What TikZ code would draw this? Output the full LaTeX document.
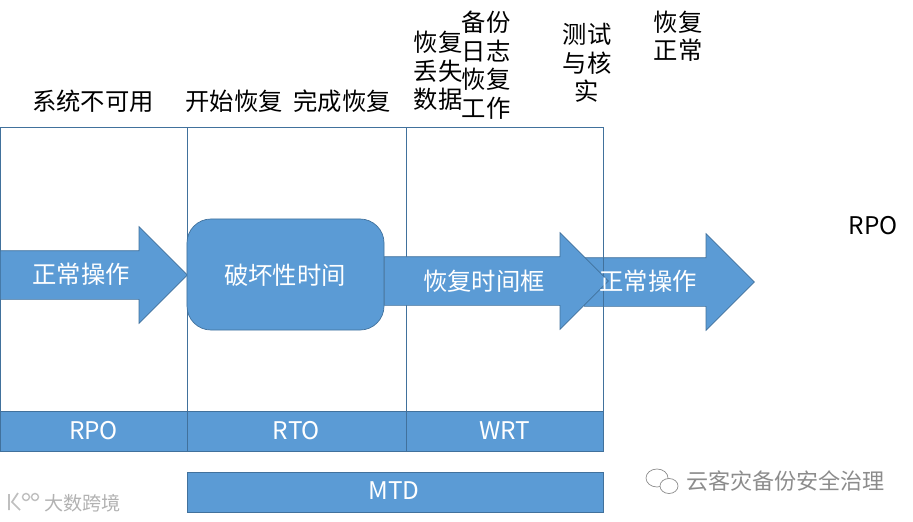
\documentclass[tikz,border=0pt]{standalone}
\usepackage{fontspec}
\setmainfont{Noto Sans CJK SC}
\usepackage{tikz}
\usetikzlibrary{shapes.arrows}
\definecolor{barblue}{HTML}{5B9BD5}
\definecolor{edgeblue}{HTML}{41719C}
\tikzset{
  captext/.style={font=\fontsize{17.3}{20.3}\selectfont,align=center,inner sep=0pt},
  whitetext/.style={captext,text=white},
  bar/.style={draw=edgeblue,fill=barblue,line width=0.5pt},
  bigarrow/.style={bar,single arrow,single arrow head extend=24*0.7113pt,
    single arrow tip angle=90,inner xsep=0pt,inner ysep=24*0.7113pt,anchor=tail},
  marktext/.style={font=\fontsize{15.7}{18}\selectfont,text=black!45,inner sep=0pt},
}
\begin{document}
\begin{tikzpicture}[x=0.025cm,y=-0.025cm]
      \useasboundingbox (0,0) rectangle (913,521);

      %% last arrow goes under the frame
      \node [bigarrow,minimum height=170*0.7113pt] (arrow3) at (584,282) {};

      \draw [edgeblue,line width=0.5pt] (0,127) rectangle (603,411);
      \draw [edgeblue,line width=0.5pt] (187,127) -- (187,411);
      \draw [edgeblue,line width=0.5pt] (406,127) -- (406,411);

      \node [bigarrow,minimum height=187*0.7113pt] (arrow1) at (0,275) {};
      \node [bigarrow,minimum height=224*0.7113pt] (arrow2) at (384,281) {};
      \node [bar,rounded corners=24*0.7113pt,minimum width=197*0.7113pt,minimum height=111*0.7113pt,inner sep=0pt] (broken) at (285.5,274.5) {};

      \node [whitetext] (normal1) at (81,274) {正常操作};
      \node [whitetext] (brokentext) at (285,275) {破坏性时间};
      \node [whitetext] (frametext) at (484,281) {恢复时间框};
      \node [whitetext] (normal2) at (648,281) {正常操作};

      %% captions above the frame
      \node [captext] (down) at (93,101) {系统不可用};
      \node [captext] (start) at (234,101) {开始恢复};
      \node [captext] (finish) at (342,101) {完成恢复};
      \node [captext] (lost) at (438,71) {恢复\\丢失\\数据};
      \node [captext] (logs) at (486,65) {备份\\日志\\恢复\\工作};
      \node [captext] (check) at (587,63) {测试\\与核\\实};
      \node [captext] (back) at (678,36) {恢复\\正常};
      \node [captext] (rposide) at (873,226) {RPO};

      %% bars at the bottom
      \draw [bar] (0,411) rectangle (187,451);
      \draw [bar] (187,411) rectangle (406,451);
      \draw [bar] (406,411) rectangle (603,451);
      \draw [bar] (187,472) rectangle (603,512);
      \node [whitetext] (rpo) at (93.5,431) {RPO};
      \node [whitetext] (rto) at (296.5,431) {RTO};
      \node [whitetext] (wrt) at (504.5,431) {WRT};
      \node [whitetext] (mtd) at (394,491) {MTD};

      %% watermarks
      \draw [black!45,line width=0.5pt] (657,478) ellipse (11 and 9);
      \draw [black!45,fill=white,line width=0.5pt] (669,486) ellipse (9 and 7.5);
      \node [marktext,anchor=west] (brand) at (686,481) {云客灾备份安全治理};
      \draw [black!25,line width=1.2pt] (9,494) -- (9,510) (18,493) -- (12,502) -- (20,510);
      \draw [black!25,line width=1pt] (26,497) circle (3.5) (35,497) circle (3.5);
      \node [marktext,text=black!30,font=\fontsize{13.6}{16}\selectfont,anchor=west] (site) at (44,503) {大数跨境};
    \end{tikzpicture}
\end{document}
